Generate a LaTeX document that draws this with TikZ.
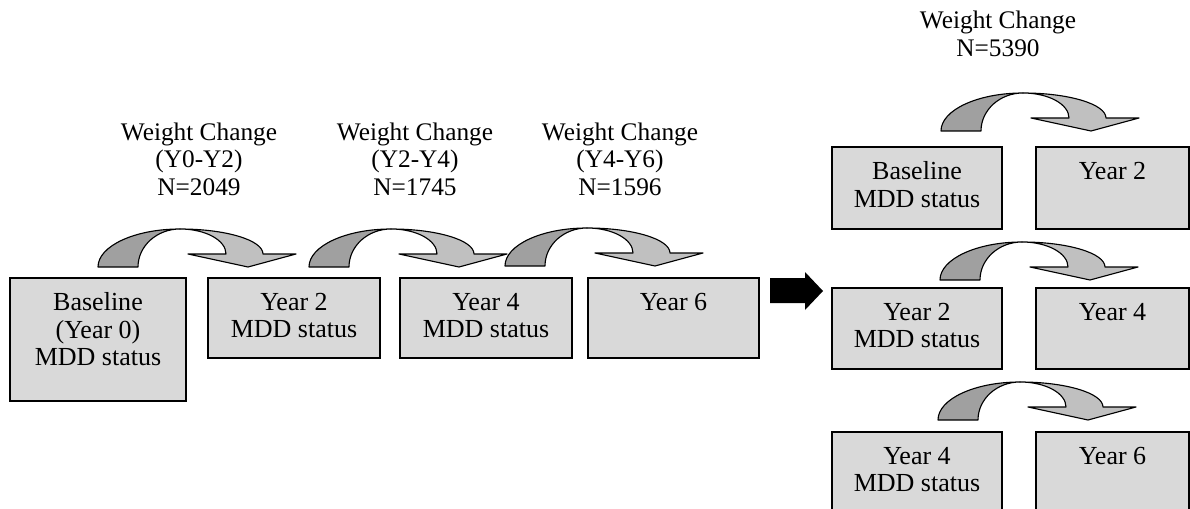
\documentclass[tikz,border=0pt]{standalone}
\usepackage{fontspec}
\setmainfont{Liberation Serif}
\usetikzlibrary{positioning}

\definecolor{boxgray}{RGB}{217,217,217}
\definecolor{backgray}{RGB}{160,160,160}
\definecolor{frontgray}{RGB}{192,192,192}

\tikzset{
  box/.style={draw, fill=boxgray, line width=0.8pt},
  boxtext/.style={align=center, font=\fontsize{18.5}{19.5}\selectfont},
  wclabel/.style={align=center, font=\fontsize{18}{19.5}\selectfont},
  weightarrow/.pic={
    \filldraw[fill=backgray, line width=0.8pt, line join=round]
      (-82,-38) arc[start angle=180, end angle=90, x radius=82, y radius=38]
      arc[start angle=90, end angle=180, x radius=42, y radius=38] -- cycle;
    \filldraw[fill=frontgray, line width=0.8pt, line join=round]
      (0,0) arc[start angle=90, end angle=0, x radius=83, y radius=25]
      -- (116,-25) -- (68,-38) -- (8,-25) -- (46,-25)
      arc[start angle=0, end angle=90, x radius=46, y radius=25] -- cycle;
  }
}

\begin{document}
\begin{tikzpicture}[x=0.025cm, y=0.025cm]
\clip (0,0) rectangle (1190,508);

% left: one box per wave
\node[box, minimum width=4.4cm, minimum height=3.075cm] (b0) at (98,168.5) {};
\node[box, minimum width=4.3cm, minimum height=2cm] (b2) at (294,190) {};
\node[box, minimum width=4.3cm, minimum height=2cm] (b4) at (486,190) {};
\node[box, minimum width=4.275cm, minimum height=2cm] (b6) at (673.5,190) {};
\node[boxtext, below=7.5pt of b0.north] (b0t) {Baseline\\(Year 0)\\MDD status};
\node[boxtext, below=7.5pt of b2.north] (b2t) {Year 2\\MDD status};
\node[boxtext, below=7.5pt of b4.north] (b4t) {Year 4\\MDD status};
\node[boxtext, below=7.5pt of b6.north] (b6t) {Year 6};

\pic at (180,279) {weightarrow};
\pic at (391,279) {weightarrow};
\pic at (587,280) {weightarrow};

\node[wclabel] (wc1) at (199,349) {Weight Change\\(Y0-Y2)\\N=2049};
\node[wclabel] (wc2) at (415,349) {Weight Change\\(Y2-Y4)\\N=1745};
\node[wclabel] (wc3) at (620,349) {Weight Change\\(Y4-Y6)\\N=1596};

% black arrow
\fill (770,230) -- (805,230) -- (805,236) -- (823,217) -- (805,198) -- (805,205) -- (770,205) -- cycle;

% right: pairs stacked
\node[box, minimum width=4.25cm, minimum height=2.05cm] (r1a) at (917,320) {};
\node[box, minimum width=3.825cm, minimum height=2.05cm] (r1b) at (1112.5,320) {};
\node[box, minimum width=4.25cm, minimum height=2.025cm] (r2a) at (917,179.5) {};
\node[box, minimum width=3.825cm, minimum height=2.025cm] (r2b) at (1112.5,179.5) {};
\node[box, minimum width=4.25cm, minimum height=2.025cm] (r3a) at (917,35.5) {};
\node[box, minimum width=3.825cm, minimum height=2.025cm] (r3b) at (1112.5,35.5) {};
\node[boxtext, below=7.5pt of r1a.north] (r1at) {Baseline\\MDD status};
\node[boxtext, below=7.5pt of r1b.north] (r1bt) {Year 2};
\node[boxtext, below=7.5pt of r2a.north] (r2at) {Year 2\\MDD status};
\node[boxtext, below=7.5pt of r2b.north] (r2bt) {Year 4};
\node[boxtext, below=7.5pt of r3a.north] (r3at) {Year 4\\MDD status};
\node[boxtext, below=7.5pt of r3b.north] (r3bt) {Year 6};

\pic at (1023,415) {weightarrow};
\pic at (1022,266) {weightarrow};
\pic at (1020,126) {weightarrow};

\node[wclabel] (wc4) at (998,474) {Weight Change\\N=5390};
\end{tikzpicture}
\end{document}
